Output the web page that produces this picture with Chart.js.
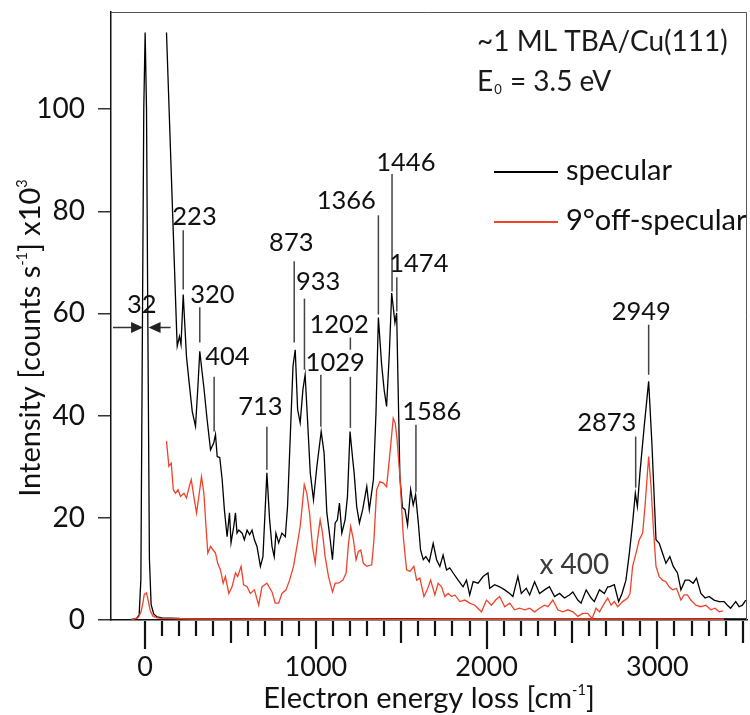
<!DOCTYPE html>
<html>
<head>
<meta charset="utf-8">
<script src="https://cdn.jsdelivr.net/npm/chart.js@4.4.1/dist/chart.umd.min.js"></script>
<style>
body { margin: 0; background: #fff; }
canvas { display: block; }
</style>
</head>
<body>
<canvas id="hreels" width="750" height="715"></canvas>
<script>
// HREELS ~1 ML TBA/Cu(111), E0 = 3.5 eV
// zoomed part (x 400), specular
var specE = [125,185,188,201,210,223,242,256,276,295,308,320,334,344,363,383,402,412,422,437,451,464,480,494,503,519,529,538,548,568,581,597,612,626,640,655,675,690,713,729,743,756,766,782,801,821,834,850,866,879,893,908,924,937,951,967,986,1006,1031,1048,1064,1084,1097,1113,1126,1138,1152,1171,1185,1200,1214,1224,1239,1255,1274,1298,1313,1337,1352,1366,1385,1400,1414,1430,1444,1463,1473,1492,1507,1522,1537,1555,1570,1584,1600,1613,1629,1644,1664,1687,1707,1726,1745,1765,1784,1804,1833,1862,1882,1901,1921,1950,1979,2008,2018,2047,2076,2106,2135,2154,2183,2203,2232,2252,2281,2310,2339,2368,2398,2427,2456,2485,2505,2534,2553,2583,2612,2631,2661,2690,2709,2719,2748,2773,2793,2816,2836,2855,2871,2883,2898,2923,2949,2968,2992,3011,3030,3050,3073,3093,3118,3138,3163,3186,3210,3229,3255,3280,3303,3332,3362,3391,3410,3429,3459,3479,3498,3518];
var specI = [115,56,53.6,55.5,53.9,63.7,51.6,47,40.8,37.9,45.1,52.6,48.4,45.5,39.2,33.3,34.7,36.3,32,31.8,27.5,21.6,16.3,21,15.1,18.3,21,17,17.6,17,15.7,17.6,16.7,17.6,15.7,14.4,10.5,12.4,28.8,19.6,14.4,12.4,17,15.1,17,16.3,22.2,35.9,49.7,52.9,41.2,38.6,45.1,48,39.2,28.8,23.5,30.1,36.9,32.7,21,15.7,11.8,19,19.6,22.9,17,19.6,24.2,36.9,32,28.8,22.2,19,21.6,26.1,21.6,27.5,40.5,59.2,50,45,41.8,52,64,58.2,60.1,28.1,22,21.6,18.6,25.5,22.5,24.5,19,13.7,11.8,12.4,11.4,15,11.8,10.5,12.7,9.8,10.2,9.2,7.8,6.5,7.8,4.9,7.5,7.2,8.5,9.2,6.2,6.9,6.5,5.9,5.2,4.6,8.5,5.2,6.2,4.9,7.5,5.2,5.9,6.5,4.6,5.2,4.3,4.9,5.5,3.9,3.3,5.9,4.3,3.6,5.9,5.2,6.5,6.5,6.9,3.6,5.2,7.8,13.1,19,24.8,22.2,28.8,37.9,46.7,34.6,15.7,15,13.1,11.1,12.4,10.5,9.2,5.9,7.8,7.8,7.2,8.2,5.2,4.3,4.6,3.9,3.6,3.6,2.9,2.3,3.6,2.6,2.9,3.9];

// zoomed part (x 400), 9 deg off-specular
var offE = [125,139,153,165,178,192,207,227,242,256,270,285,301,317,330,344,355,367,383,398,412,425,441,457,470,490,509,529,542,562,577,597,616,640,665,684,713,743,762,782,801,825,846,869,889,908,918,932,947,963,980,996,1009,1025,1039,1054,1074,1097,1113,1132,1158,1177,1191,1204,1220,1235,1249,1263,1278,1298,1327,1340,1356,1375,1395,1414,1434,1453,1465,1475,1492,1512,1531,1551,1574,1590,1609,1633,1652,1672,1697,1716,1736,1755,1775,1795,1814,1843,1872,1901,1931,1970,1999,2028,2053,2076,2106,2135,2164,2193,2223,2252,2281,2310,2339,2359,2388,2417,2446,2476,2505,2534,2563,2592,2618,2641,2661,2690,2709,2729,2748,2768,2797,2826,2840,2855,2875,2894,2914,2929,2949,2963,2976,2992,3011,3030,3050,3069,3089,3112,3138,3157,3176,3196,3225,3255,3284,3313,3338,3362,3385];
var offI = [35,30.1,30.7,25.5,24.8,25.5,24.2,24.8,23.9,25.8,27.5,24.2,20.9,24.8,28.1,24.8,19,13.1,14.4,13.7,13.1,11.1,9.8,7.2,8.5,5.2,6.5,9.2,8.5,10.5,6.9,6.5,5.2,5.9,2.9,6.5,7.2,5.5,3.3,3.3,5.2,5.9,7.8,10.5,14.4,18.3,21.6,26.5,24.8,20.9,14.4,11.1,15.7,19.6,17,12.4,8.5,5.5,7.2,7.2,7.8,9.2,15,18.3,15.7,11.8,13.4,13.7,11.1,10.5,10.8,15.7,25.5,27.1,26.8,26.1,32.7,39.5,38.5,35.5,28.1,16.3,9.8,9.5,10.5,7.8,8.2,4.6,5.9,7.8,4.9,7.2,6.5,4.6,5.2,4.6,4.9,3.6,3.9,3.3,2.9,1.6,3.9,2.9,3.9,4.6,2.6,3.3,2,2.3,2,2.3,1.6,2.3,2.9,2.6,3.9,2,1.6,2,1.6,0.7,1.3,1.3,0.3,2.3,1.6,3.3,4.3,2.9,3.6,2.6,3.6,4.3,5.2,10.5,13.1,15.7,17,22.9,32,26.1,18.3,10.5,8.5,7.8,7.5,6.5,5.9,6.2,3.9,4.9,4.9,3.9,2.9,2.6,2.9,2,2.3,1.6,1.8];

// raw (x 1) spectra with the elastic peak
var specRawE = [-80,-50,-35,-25,-16,-8,0,8,16,25,35,50,70,100,200,500,1000,1500,2000,2500,3000,3525];
var specRawI = [0.1,0.3,1,8,57,100,115,100,57,12,3,1.2,0.6,0.4,0.3,0.25,0.2,0.25,0.2,0.2,0.25,0.2];
var offRawE = [-80,-40,-25,-15,-5,8,20,30,45,70,100,300,1000,2000,3000,3390];
var offRawI = [0,0.5,1.5,3,5,5.3,3.5,1.8,0.8,0.4,0.3,0.2,0.15,0.15,0.2,0.15];

// peak assignments (cm-1)
var peaks = [223,320,404,713,873,933,1029,1202,1366,1446,1474,1586,2873,2949];

var xTickLabels = ['0','1000','2000','3000'];
var yTickLabels = ['0','20','40','60','80','100'];

var FONT = 'Lato, "Open Sans", sans-serif';
var BLACK = '#000000';
var RED = '#f0432a';

function pts(xs, ys) {
  return xs.map(function (x, i) { return { x: x, y: ys[i] }; });
}

// label placement: text centre (energy, intensity), leader line segments (intensity)
var peakLayout = {
  223:  { tx: 289,  ty: 79,   seg: [[76.3, 64.7]] },
  320:  { tx: 394,  ty: 63.7, seg: [[61.2, 54.3]] },
  404:  { tx: 482,  ty: 51.6, seg: [[47.6, 36.9]] },
  713:  { tx: 675,  ty: 41.8, seg: [[37.8, 29.4]] },
  873:  { tx: 856,  ty: 73.9, seg: [[70.2, 54.3]] },
  933:  { tx: 1013, ty: 66.1, seg: [[62.9, 49]] },
  1029: { tx: 1113, ty: 50.4, seg: [[48, 37.8]] },
  1202: { tx: 1136, ty: 57.8, seg: [[55.3, 52.9], [47.6, 37.6]] },
  1366: { tx: 1178, ty: 82,   seg: [[79.2, 59.8]] },
  1446: { tx: 1527, ty: 89.4, seg: [[87.3, 64.3]] },
  1474: { tx: 1603, ty: 69.8, seg: [[67.1, 60.4]] },
  1586: { tx: 1679, ty: 40.8, seg: [[38.2, 25.1]] },
  2873: { tx: 2704, ty: 38.6, seg: [[35.9, 25.9]] },
  2949: { tx: 2906, ty: 60.4, seg: [[57.8, 48]] }
};

function rich(ctx, parts, x, y, size, color) {
  // parts: [text, isSup] ; draws centred at x, middle at y
  var w = 0;
  parts.forEach(function (p) {
    ctx.font = (p[1] ? size * 0.5 : size) + 'px ' + FONT;
    w += ctx.measureText(p[0]).width;
  });
  var cx = x - w / 2;
  ctx.fillStyle = color;
  ctx.textAlign = 'left';
  ctx.textBaseline = 'alphabetic';
  parts.forEach(function (p) {
    ctx.font = (p[1] ? size * 0.5 : size) + 'px ' + FONT;
    var dy = p[1] ? -size * 0.45 : 0;
    ctx.fillText(p[0], cx, y + size * 0.36 + dy);
    cx += ctx.measureText(p[0]).width;
  });
}

var decor = {
  id: 'decor',
  afterDraw: function (chart) {
    var ctx = chart.ctx, xs = chart.scales.x, ys = chart.scales.y, a = chart.chartArea;
    ctx.save();

    // frame top/right
    ctx.strokeStyle = '#555';
    ctx.lineWidth = 1;
    ctx.beginPath();
    ctx.moveTo(a.left, a.top + 0.5);
    ctx.lineTo(a.right - 0.5, a.top + 0.5);
    ctx.lineTo(a.right - 0.5, a.bottom);
    ctx.stroke();

    // x ticks: minor every 100, medium every 500, major every 1000
    ctx.strokeStyle = '#111';
    ctx.lineWidth = 2.2;
    xs.ticks.forEach(function (t) {
      var v = t.value;
      if (v < 0) return;
      var px = Math.round(xs.getPixelForValue(v));
      var len = v % 1000 === 0 ? 28 : (v % 500 === 0 ? 22 : 15);
      ctx.beginPath();
      ctx.moveTo(px, a.bottom + 1);
      ctx.lineTo(px, a.bottom + 1 + len);
      ctx.stroke();
    });
    ctx.fillStyle = '#111';
    ctx.font = '27px ' + FONT;
    ctx.textAlign = 'center';
    ctx.textBaseline = 'middle';
    xTickLabels.forEach(function (s) {
      ctx.fillText(s, xs.getPixelForValue(+s), a.bottom + 47);
    });

    // axis titles
    rich(ctx, [['Electron energy loss [cm', 0], ['-1', 1], [']', 0]], (a.left + a.right) / 2, 698, 29, '#111');
    ctx.save();
    ctx.translate(30, 338);
    ctx.rotate(-Math.PI / 2);
    rich(ctx, [['Intensity [counts s', 0], ['-1', 1], ['] x10', 0], ['3', 1]], 0, 0, 29, '#111');
    ctx.restore();

    // peak labels
    ctx.strokeStyle = '#444';
    ctx.lineWidth = 1.5;
    peaks.forEach(function (p) {
      var L = peakLayout[p];
      var px = xs.getPixelForValue(p);
      L.seg.forEach(function (s) {
        ctx.beginPath();
        ctx.moveTo(px, ys.getPixelForValue(s[0]));
        ctx.lineTo(px, ys.getPixelForValue(s[1]));
        ctx.stroke();
      });
      ctx.fillStyle = '#111';
      ctx.font = '25.5px ' + FONT;
      ctx.textAlign = 'center';
      ctx.textBaseline = 'middle';
      ctx.fillText(String(p), xs.getPixelForValue(L.tx), ys.getPixelForValue(L.ty));
    });

    // FWHM of elastic peak
    ctx.fillText('32', xs.getPixelForValue(-20), ys.getPixelForValue(61.6));
    var ay = Math.round(ys.getPixelForValue(57.3)) + 0.5;
    var lt = xs.getPixelForValue(-12), rt = xs.getPixelForValue(20);
    ctx.strokeStyle = '#333';
    ctx.fillStyle = '#222';
    ctx.beginPath();
    ctx.moveTo(a.left + 2, ay); ctx.lineTo(lt - 4, ay);
    ctx.moveTo(xs.getPixelForValue(149), ay); ctx.lineTo(rt + 4, ay);
    ctx.stroke();
    ctx.beginPath();
    ctx.moveTo(lt, ay); ctx.lineTo(lt - 12, ay - 5.5); ctx.lineTo(lt - 12, ay + 5.5); ctx.closePath();
    ctx.moveTo(rt, ay); ctx.lineTo(rt + 12, ay - 5.5); ctx.lineTo(rt + 12, ay + 5.5); ctx.closePath();
    ctx.fill();

    // magnification
    ctx.fillStyle = '#3a3a3a';
    ctx.font = '28px ' + FONT;
    ctx.fillText('x 400', xs.getPixelForValue(2514), ys.getPixelForValue(10.8));

    // header
    ctx.fillStyle = '#1a1a1a';
    ctx.textAlign = 'left';
    ctx.textBaseline = 'middle';
    ctx.font = '28px ' + FONT;
    ctx.fillText('~1 ML TBA/Cu(111)', 477, 42);
    ctx.fillText('E', 477, 82);
    var ew = ctx.measureText('E').width;
    ctx.font = '13px ' + FONT;
    ctx.fillText('0', 477 + ew + 1, 90);
    var zw = ctx.measureText('0').width;
    ctx.font = '28px ' + FONT;
    ctx.fillText(' = 3.5 eV', 477 + ew + zw + 2, 82);

    // legend
    ctx.font = '29px ' + FONT;
    chart.data.datasets.forEach(function (d) {
      if (!d.legendY) return;
      ctx.strokeStyle = d.borderColor;
      ctx.lineWidth = 2;
      ctx.beginPath();
      ctx.moveTo(494, d.legendY);
      ctx.lineTo(558, d.legendY);
      ctx.stroke();
      ctx.fillStyle = '#111';
      ctx.fillText(d.label, 566, d.legendY - 1);
    });

    ctx.restore();
  }
};

var ctx = document.getElementById('hreels').getContext('2d');
var chart = new Chart(ctx, {
  type: 'line',
  data: {
    datasets: [
      { label: 'specular', data: pts(specE, specI), borderColor: BLACK, legendY: 172, order: 2 },
      { label: '9°off-specular', data: pts(offE, offI), borderColor: RED, legendY: 222, order: 1 },
      { label: 'specular x1', data: pts(specRawE, specRawI), borderColor: BLACK, order: 3 },
      { label: 'off-specular x1', data: pts(offRawE, offRawI), borderColor: RED, order: 0 }
    ]
  },
  options: {
    responsive: false,
    animation: false,
    events: [],
    layout: { padding: { top: 12, right: 3, left: 0, bottom: 0 } },
    datasets: {
      line: { pointRadius: 0, borderWidth: 1.3, tension: 0, fill: false }
    },
    plugins: {
      legend: { display: false },
      tooltip: { enabled: false }
    },
    scales: {
      x: {
        type: 'linear',
        min: -200,
        max: 3525,
        ticks: { display: false, stepSize: 100, includeBounds: false },
        grid: { display: false },
        border: { display: true, color: '#111', width: 1.5 },
        afterFit: function (s) {
          s.height = 95;
          s.paddingLeft = 0;
          s.paddingRight = 0;
        }
      },
      y: {
        min: 0,
        max: 119,
        ticks: {
          stepSize: 20,
          includeBounds: false,
          padding: 13,
          color: '#111',
          font: { family: FONT, size: 28 },
          callback: function (v) { return yTickLabels[v / 20]; }
        },
        grid: { drawOnChartArea: false, tickLength: 13, color: '#333', lineWidth: 1.5 },
        border: { display: true, color: '#111', width: 1.5 },
        afterBuildTicks: function (s) {
          s.ticks = s.ticks.filter(function (t) { return t.value <= 100; });
          s.min = 0;
          s.max = 119;
        },
        afterFit: function (s) {
          s.width = 111;
          s.paddingTop = 0;
          s.paddingBottom = 0;
        }
      }
    }
  },
  plugins: [decor]
});
</script>
</body>
</html>
